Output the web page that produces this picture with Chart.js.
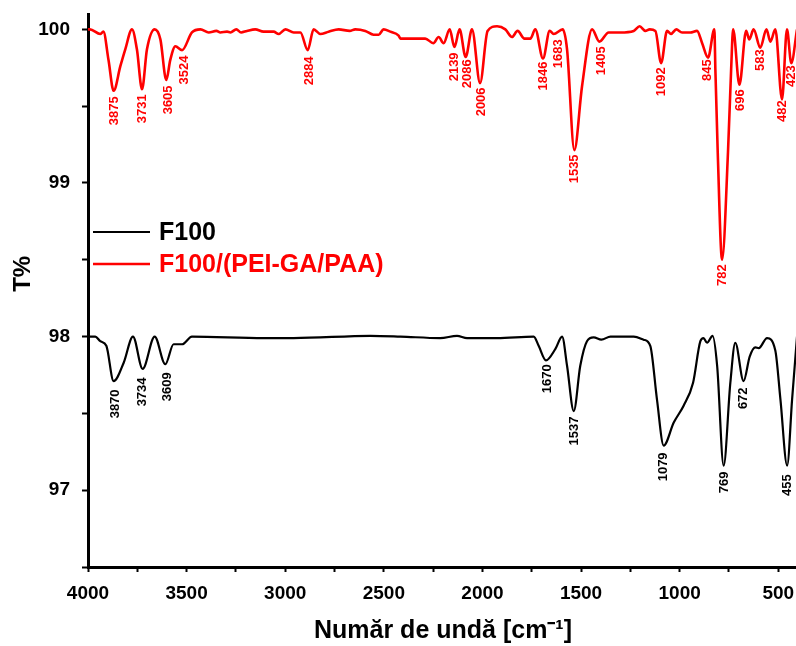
<!DOCTYPE html>
<html>
<head>
<meta charset="utf-8">
<script src="https://cdn.jsdelivr.net/npm/chart.js@4"></script>
<style>
  html, body { margin: 0; padding: 0; background: #fff; overflow: hidden; }
  #wrap { width: 800px; height: 646px; }
</style>
</head>
<body>
<div id="wrap"><canvas id="c" width="800" height="646"></canvas></div>
<script>
// ---- data (wavenumber cm-1, transmittance %) ----
const seriesNames = ['F100', 'F100/(PEI-GA/PAA)'];

const blackWave = [4000, 3963, 3938, 3907, 3870, 3819, 3772, 3723, 3662, 3608, 3566, 3523, 3473,
  3109, 2957, 2568, 2416, 2214, 2129, 2078, 1926, 1740, 1715, 1678, 1630, 1596, 1571, 1537, 1504,
  1470, 1436, 1397, 1351, 1233, 1183, 1149, 1115, 1081, 1030, 980, 932, 895, 879, 861, 833, 810,
  777, 743, 718, 676, 645, 616, 599, 557, 515, 489, 455, 430, 405];
const blackT = [98.00, 98.00, 97.97, 97.94, 97.71, 97.83, 98.00, 97.79, 98.00, 97.82, 97.95, 97.95, 98.00,
  97.99, 97.99, 98.005, 98.00, 97.99, 98.005, 97.99, 97.99, 98.00, 97.94, 97.845, 97.92, 98.00, 97.81, 97.515, 97.81,
  97.97, 97.995, 97.98, 98.00, 98.00, 97.98, 97.94, 97.59, 97.29, 97.44, 97.55, 97.70, 97.97, 97.99, 97.96, 98.005, 97.81,
  97.16, 97.70, 97.96, 97.71, 97.87, 97.93, 97.925, 97.99, 97.91, 97.59, 97.16, 97.59, 98.00];

const redWave = [4000, 3990, 3938, 3922, 3896, 3870, 3836, 3811, 3777, 3752, 3726, 3701, 3662, 3633, 3603,
  3583, 3557, 3523, 3473, 3430, 3388, 3349, 3329, 3295, 3278, 3248, 3224, 3194, 3152, 3110, 3059, 3033,
  2999, 2957, 2923, 2886, 2856, 2822, 2780, 2729, 2673, 2645, 2594, 2552, 2526, 2501, 2467, 2425, 2416,
  2290, 2249, 2222, 2197, 2166, 2142, 2116, 2085, 2053, 2012, 1974, 1926, 1884, 1850, 1822, 1787, 1757,
  1732, 1693, 1659, 1639, 1593, 1571, 1534, 1495, 1444, 1407, 1360, 1301, 1233, 1203, 1174, 1152, 1123,
  1094, 1064, 1044, 1017, 988, 946, 912, 886, 856, 824, 819, 807, 785, 755, 739, 729, 697, 663, 647,
  625, 591, 560, 540, 515, 481, 456, 434, 405];
const redT = [100.00, 100.00, 99.97, 99.985, 99.80, 99.60, 99.76, 99.87, 100.00, 99.87, 99.61, 99.87, 100.00, 99.935, 99.67,
  99.80, 99.89, 99.865, 99.98, 100.00, 99.98, 99.99, 99.98, 99.985, 99.98, 100.00, 99.98, 99.99, 100.00, 99.985, 99.985, 99.97,
  100.00, 99.98, 99.98, 99.865, 100.00, 99.97, 99.985, 100.00, 99.99, 100.00, 99.99, 99.965, 99.965, 100.00, 99.985, 99.96, 99.94,
  99.94, 99.91, 99.95, 99.91, 100.00, 99.885, 100.00, 99.82, 100.00, 99.65, 99.99, 100.02, 100.00, 99.95, 99.99, 99.94, 99.94,
  100.00, 99.81, 99.99, 99.97, 100.00, 99.87, 99.214, 99.63, 100.00, 99.92, 99.98, 99.98, 99.99, 100.02, 99.99, 100.00, 99.99,
  99.78, 99.99, 99.97, 100.00, 99.98, 99.98, 99.99, 99.91, 99.816, 100.00, 99.74, 99.20, 98.50, 99.20, 99.74, 100.00, 99.64, 99.99, 99.935,
  100.00, 99.88, 100.00, 99.92, 100.00, 99.544, 100.00, 99.78, 100.00];

// peak annotations: text, wavenumber of label centre, transmittance at the label's top end
const redPeakText = ['3875', '3731', '3605', '3524', '2884', '2139', '2086', '2006', '1846', '1683',
  '1535', '1405', '1092', '845', '782', '696', '583', '482', '423'];
const redPeakX = [3867, 3725, 3593, 3512, 2878, 2142, 2076, 2006, 1691, 1615,
  1534, 1397, 1093, 860, 785, 692, 590, 479, 434];
const redPeakY = [99.564, 99.577, 99.635, 99.83, 99.824, 99.85, 99.805, 99.622, 99.79, 99.935,
  99.186, 99.89, 99.753, 99.805, 98.47, 99.61, 99.87, 99.538, 99.766];

const blackPeakText = ['3870', '3734', '3609', '1670', '1537', '1079', '769', '672', '455'];
const blackPeakX = [3861, 3726, 3599, 1672, 1534, 1081, 773, 676, 455];
const blackPeakY = [97.656, 97.734, 97.767, 97.819, 97.48, 97.246, 97.122, 97.669, 97.103];

const xTitle = 'Număr de undă [cm⁻¹]';
const yTitle = '     T%';

// ---- chart ----
const FONT = '"Liberation Sans", Arial, Helvetica, sans-serif';
Chart.defaults.font.family = FONT;
Chart.defaults.color = '#000';

const toPts = (xs, ys) => xs.map((x, i) => ({ x: x, y: ys[i] }));

const peakGroups = [
  { color: '#000000', text: blackPeakText, xs: blackPeakX, ys: blackPeakY },
  { color: '#ff0000', text: redPeakText, xs: redPeakX, ys: redPeakY }
];

const annotate = {
  id: 'annotate',
  afterDatasetsDraw(chart) {
    const { ctx, scales: { x, y }, chartArea } = chart;
    ctx.save();
    ctx.font = 'bold 13px ' + FONT;
    ctx.textAlign = 'right';
    ctx.textBaseline = 'middle';
    peakGroups.forEach(g => {
      ctx.fillStyle = g.color;
      g.text.forEach((t, i) => {
        const px = x.getPixelForValue(g.xs[i]);
        const py = y.getPixelForValue(g.ys[i]);
        ctx.save();
        ctx.translate(px, py);
        ctx.rotate(-Math.PI / 2);
        ctx.fillText(t, 0, 0);
        ctx.restore();
      });
    });
    // legend
    const ds = chart.data.datasets;
    const lx0 = chartArea.left + 5, lx1 = chartArea.left + 62;
    const rows = [232, 264];
    ctx.font = 'bold 25px ' + FONT;
    ctx.textAlign = 'left';
    ctx.textBaseline = 'middle';
    ds.forEach((d, i) => {
      ctx.strokeStyle = d.borderColor;
      ctx.lineWidth = d.borderWidth;
      ctx.beginPath();
      ctx.moveTo(lx0, rows[i]);
      ctx.lineTo(lx1, rows[i]);
      ctx.stroke();
      ctx.fillStyle = d.borderColor;
      ctx.fillText(d.label, lx1 + 9, rows[i] + 1);
    });
    ctx.restore();
  }
};

new Chart(document.getElementById('c'), {
  type: 'line',
  data: {
    datasets: [
      { label: seriesNames[0], data: toPts(blackWave, blackT), borderColor: '#000000', borderWidth: 2.2,
        cubicInterpolationMode: 'monotone', pointRadius: 0, fill: false },
      { label: seriesNames[1], data: toPts(redWave, redT), borderColor: '#ff0000', borderWidth: 2.6,
        cubicInterpolationMode: 'monotone', pointRadius: 0, fill: false }
    ]
  },
  options: {
    responsive: false,
    animation: false,
    layout: { padding: { top: 14, right: 2, left: 0, bottom: 0 } },
    plugins: { legend: { display: false }, tooltip: { enabled: false } },
    scales: {
      x: {
        type: 'linear', reverse: true, min: 400, max: 4000,
        afterFit: s => { s.height = 79; s.paddingLeft = 0; s.paddingRight = 0; },
        ticks: {
          stepSize: 250, includeBounds: false, autoSkip: false, maxRotation: 0, padding: 10,
          font: { size: 19, weight: 'bold' }, color: '#000',
          callback: v => (v % 500 === 0 ? String(v) : '')
        },
        grid: { display: true, drawOnChartArea: false, drawTicks: true, tickLength: 5, tickWidth: 2, tickColor: '#000' },
        border: { display: true, color: '#000', width: 3 },
        title: { display: true, text: xTitle, color: '#000', font: { size: 25, weight: 'bold' }, padding: { top: 0, bottom: 0 } }
      },
      y: {
        type: 'linear', min: 96.5, max: 100.1,
        afterFit: s => { s.width = 88; s.paddingTop = 0; s.paddingBottom = 0; },
        ticks: {
          stepSize: 0.5, includeBounds: false, autoSkip: false, padding: 12,
          font: { size: 19, weight: 'bold' }, color: '#000',
          callback: v => (Math.abs(v - Math.round(v)) < 1e-6 ? String(Math.round(v)) : '')
        },
        grid: { display: true, drawOnChartArea: false, drawTicks: true, tickLength: 6, tickWidth: 2, tickColor: '#000' },
        border: { display: true, color: '#000', width: 3 },
        title: { display: true, text: yTitle, color: '#000', font: { size: 24, weight: 'bold' }, padding: { top: 9, bottom: 0 } }
      }
    }
  },
  plugins: [annotate]
});
</script>
</body>
</html>
